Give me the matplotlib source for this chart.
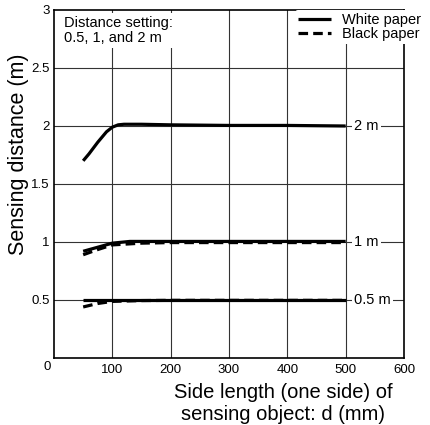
import matplotlib
matplotlib.use("Agg")
import matplotlib.pyplot as plt
from matplotlib.lines import Line2D

plt.rcParams['font.family'] = ['Liberation Sans', 'DejaVu Sans']

# Data
x_2m_white = [50, 60, 75, 90, 100, 110, 120, 150, 200, 300, 400, 500]
y_2m_white = [1.70, 1.76, 1.86, 1.95, 1.99, 2.01, 2.015, 2.015, 2.01, 2.005, 2.005, 2.0]

x_1m_white = [50, 75, 100, 130, 200, 300, 400, 500]
y_1m_white = [0.92, 0.955, 0.99, 1.005, 1.005, 1.005, 1.005, 1.005]
x_1m_black = [50, 75, 100, 150, 200, 300, 400, 500]
y_1m_black = [0.89, 0.935, 0.975, 0.99, 0.995, 0.995, 0.995, 0.995]

x_05m_white = [50, 100, 200, 300, 400, 500]
y_05m_white = [0.50, 0.50, 0.50, 0.50, 0.50, 0.50]
x_05m_black = [50, 75, 100, 150, 200, 300, 400, 500]
y_05m_black = [0.44, 0.47, 0.488, 0.495, 0.497, 0.497, 0.497, 0.497]

x_ticks = [100, 200, 300, 400, 500, 600]
y_ticks = [0.5, 1, 1.5, 2, 2.5, 3]
setting_labels = ["2 m", "1 m", "0.5 m"]
setting_values = [2, 1, 0.5]

fig = plt.figure(figsize=(4.3, 4.25), dpi=100)
ax = fig.add_axes([54/430, 1-358/425, 350/430, 348/425])
ax.set_xlim(0, 600)
ax.set_ylim(0, 3)

for gx in x_ticks[:-1]:
    ax.axvline(gx, color='#333333', lw=0.8, zorder=1)
for gy in y_ticks[:-1]:
    ax.axhline(gy, color='#333333', lw=0.8, zorder=1)

lw = 2.3
dash = (0, (3, 1.6))
ax.plot(x_2m_white, y_2m_white, color='black', lw=lw, solid_capstyle='butt', zorder=3)
ax.plot(x_1m_white, y_1m_white, color='black', lw=lw, solid_capstyle='butt', zorder=3)
ax.plot(x_05m_white, y_05m_white, color='black', lw=lw, solid_capstyle='butt', zorder=3)
ax.plot(x_1m_black, y_1m_black, color='black', lw=lw, ls=dash, zorder=3)
ax.plot(x_05m_black, y_05m_black, color='black', lw=lw, ls=dash, zorder=3)

for lab, v in zip(setting_labels, setting_values):
    ax.text(515, v, lab, fontsize=10.5, va='center', ha='left', zorder=4,
            bbox=dict(facecolor='white', edgecolor='none', pad=1.5))

ax.text(17, 2.95, "Distance setting:\n0.5, 1, and 2 m", fontsize=10.5, va='top', ha='left',
        zorder=4, linespacing=1.1,
        bbox=dict(facecolor='white', edgecolor='none', pad=2))

handles = [Line2D([], [], color='black', lw=lw, solid_capstyle='butt'),
           Line2D([], [], color='black', lw=lw, ls=dash)]
leg = ax.legend(handles, ['White paper', 'Black paper'], loc='upper left',
                bbox_to_anchor=(241/350, 1.0), frameon=True, fontsize=10.5,
                handlelength=2.3, handletextpad=0.75, borderpad=0.2, labelspacing=0.0,
                borderaxespad=0)
leg.get_frame().set_edgecolor('none')
leg.get_frame().set_facecolor('white')
leg.get_frame().set_alpha(1)
leg.set_zorder(5)

ax.set_xticks(x_ticks)
ax.set_yticks(y_ticks)
ax.set_xticklabels([str(t) for t in x_ticks], fontsize=9.5)
ax.set_yticklabels(['0.5', '1', '1.5', '2', '2.5', '3'], fontsize=9.5)
ax.tick_params(length=0, pad=4)
ax.tick_params(axis='y', pad=3)
fig.text(47/430, 1-367/425, "0", fontsize=9.5, ha='center', va='center')

for s in ax.spines.values():
    s.set_linewidth(1.2)

fig.text(283/430, 1-392/425, "Side length (one side) of", fontsize=14.5, ha='center', va='center')
fig.text(283/430, 1-414/425, "sensing object: d (mm)", fontsize=14.5, ha='center', va='center')
fig.text(19/430, 1-154/425, "Sensing distance (m)", fontsize=15.5, ha='center', va='center', rotation=90)

fig.savefig("out.png", dpi=100)
